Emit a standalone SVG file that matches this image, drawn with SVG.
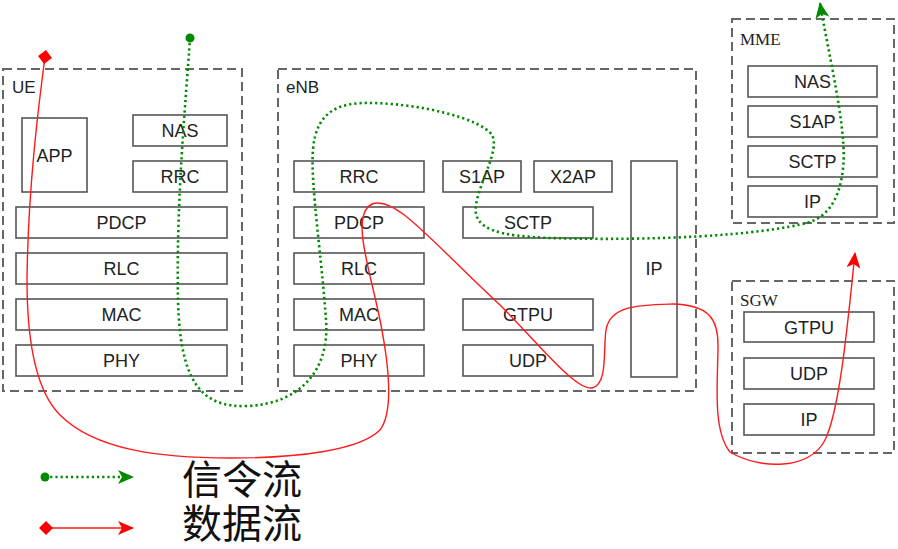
<svg xmlns="http://www.w3.org/2000/svg" width="898" height="549" viewBox="0 0 898 549">
<style>
.grp{fill:none;stroke:#666;stroke-width:2;stroke-dasharray:9 5}
.box{fill:#fff;stroke:#555;stroke-width:1.6}
.t{font-family:"Liberation Sans",Arial,sans-serif;font-size:18px;fill:#222;text-anchor:middle}
.gl{font-family:"Liberation Sans",Arial,sans-serif;font-size:17px;fill:#222}
.sl{font-family:"Liberation Serif","Times New Roman",serif;font-size:17px;fill:#222}
.sig{fill:none;stroke:#008a00;stroke-width:2.6;stroke-dasharray:2.2 3;marker-end:url(#ga);marker-start:url(#gd)}
.dat{fill:none;stroke:#ff1a1a;stroke-width:1.4;marker-end:url(#ra);marker-start:url(#rd)}
.cjk{font-family:"Noto Sans CJK SC",sans-serif;font-size:40px;fill:#111}
</style>
<defs>
<marker id="ga" markerUnits="userSpaceOnUse" markerWidth="16" markerHeight="14" viewBox="0 0 16 14" refX="15" refY="7" orient="auto"><path d="M0,0 L16,7 L0,14 L4,7 z" fill="#008a00"/></marker>
<marker id="ra" markerUnits="userSpaceOnUse" markerWidth="16" markerHeight="14" viewBox="0 0 16 14" refX="15" refY="7" orient="auto"><path d="M0,0 L16,7 L0,14 L4,7 z" fill="#ff0000"/></marker>
<marker id="gd" markerUnits="userSpaceOnUse" markerWidth="10" markerHeight="10" viewBox="0 0 10 10" refX="5" refY="5" orient="auto"><circle cx="5" cy="5" r="4.5" fill="#008a00"/></marker>
<marker id="rd" markerUnits="userSpaceOnUse" markerWidth="14" markerHeight="14" viewBox="0 0 14 14" refX="7" refY="7" orient="auto"><path d="M7,0 L14,7 L7,14 L0,7 z" fill="#ff0000"/></marker>
</defs>

<g id="UE">
<rect class="grp" x="3" y="69" width="239" height="322"/>
<text class="gl" x="12" y="93">UE</text>
<g id="ue-app"><rect class="box" x="22" y="118" width="65" height="74"/><text class="t" x="54.5" y="161.5">APP</text></g>
<g id="ue-nas"><rect class="box" x="133" y="115" width="94" height="31"/><text class="t" x="180" y="137">NAS</text></g>
<g id="ue-rrc"><rect class="box" x="133" y="161" width="94" height="31"/><text class="t" x="180" y="183">RRC</text></g>
<g id="ue-pdcp"><rect class="box" x="16" y="207" width="211" height="31"/><text class="t" x="121.5" y="229">PDCP</text></g>
<g id="ue-rlc"><rect class="box" x="16" y="253" width="211" height="31"/><text class="t" x="121.5" y="275">RLC</text></g>
<g id="ue-mac"><rect class="box" x="16" y="299" width="211" height="31"/><text class="t" x="121.5" y="321">MAC</text></g>
<g id="ue-phy"><rect class="box" x="16" y="345" width="211" height="31"/><text class="t" x="121.5" y="367">PHY</text></g>
</g>

<g id="eNB">
<rect class="grp" x="278" y="69" width="418" height="322"/>
<text class="gl" x="286" y="93">eNB</text>
<g id="enb-rrc"><rect class="box" x="294" y="161" width="130" height="31"/><text class="t" x="359" y="183">RRC</text></g>
<g id="enb-s1ap"><rect class="box" x="443" y="161" width="78" height="31"/><text class="t" x="482" y="183">S1AP</text></g>
<g id="enb-x2ap"><rect class="box" x="534" y="161" width="78" height="31"/><text class="t" x="573" y="183">X2AP</text></g>
<g id="enb-ip"><rect class="box" x="631" y="161" width="46" height="216"/><text class="t" x="654" y="274.5">IP</text></g>
<g id="enb-pdcp"><rect class="box" x="294" y="207" width="130" height="31"/><text class="t" x="359" y="229">PDCP</text></g>
<g id="enb-sctp"><rect class="box" x="463" y="207" width="130" height="31"/><text class="t" x="528" y="229">SCTP</text></g>
<g id="enb-rlc"><rect class="box" x="294" y="253" width="130" height="31"/><text class="t" x="359" y="275">RLC</text></g>
<g id="enb-mac"><rect class="box" x="294" y="299" width="130" height="31"/><text class="t" x="359" y="321">MAC</text></g>
<g id="enb-gtpu"><rect class="box" x="463" y="299" width="130" height="31"/><text class="t" x="528" y="321">GTPU</text></g>
<g id="enb-phy"><rect class="box" x="294" y="345" width="130" height="31"/><text class="t" x="359" y="367">PHY</text></g>
<g id="enb-udp"><rect class="box" x="463" y="345" width="130" height="31"/><text class="t" x="528" y="367">UDP</text></g>
</g>

<g id="MME">
<rect class="grp" x="732" y="19" width="162" height="204"/>
<text class="sl" x="740" y="45">MME</text>
<g id="mme-nas"><rect class="box" x="748" y="66" width="129" height="31"/><text class="t" x="812.5" y="88">NAS</text></g>
<g id="mme-s1ap"><rect class="box" x="748" y="106" width="129" height="31"/><text class="t" x="812.5" y="128">S1AP</text></g>
<g id="mme-sctp"><rect class="box" x="748" y="146" width="129" height="31"/><text class="t" x="812.5" y="168">SCTP</text></g>
<g id="mme-ip"><rect class="box" x="748" y="186" width="129" height="31"/><text class="t" x="812.5" y="208">IP</text></g>
</g>

<g id="SGW">
<rect class="grp" x="732" y="281" width="162" height="172"/>
<text class="sl" x="740" y="306">SGW</text>
<g id="sgw-gtpu"><rect class="box" x="744" y="312" width="130" height="30"/><text class="t" x="809" y="333.5">GTPU</text></g>
<g id="sgw-udp"><rect class="box" x="744" y="358" width="130" height="31"/><text class="t" x="809" y="380">UDP</text></g>
<g id="sgw-ip"><rect class="box" x="744" y="404" width="130" height="31"/><text class="t" x="809" y="426">IP</text></g>
</g>

<g id="connectors">
<path class="sig" d="M190,38 C186,100 176,200 178,300 C180,380 200,408 247,406 C300,404 330,370 326,320 C322,260 310,180 313,150 C316,110 340,102 373,103 C420,104 480,118 492,135 C500,150 480,180 476,205 C472,230 500,236 550,238 C650,241 760,236 810,222 C845,210 845,160 843,140 C840,100 826,40 820,3"/>
<path class="dat" d="M45,57 C38,110 28,190 27,280 C27,340 35,390 60,415 C95,450 160,458 230,458 C300,458 360,450 380,430 C395,410 388,360 380,320 C370,270 350,215 372,204 C395,195 430,240 500,305 C540,345 575,390 592,388 C608,385 603,350 606,330 C610,305 640,305 673,304 C710,305 718,320 718,345 C718,380 712,430 730,452 C760,470 810,470 825,440 C840,410 848,320 855,253"/>
</g>

<g id="legend">
<path class="sig" d="M45,477 L133,477"/>
<text class="cjk" x="182" y="494">信令流</text>
<path class="dat" d="M46,528 L133,528"/>
<text class="cjk" x="182" y="538">数据流</text>
</g>
</svg>
